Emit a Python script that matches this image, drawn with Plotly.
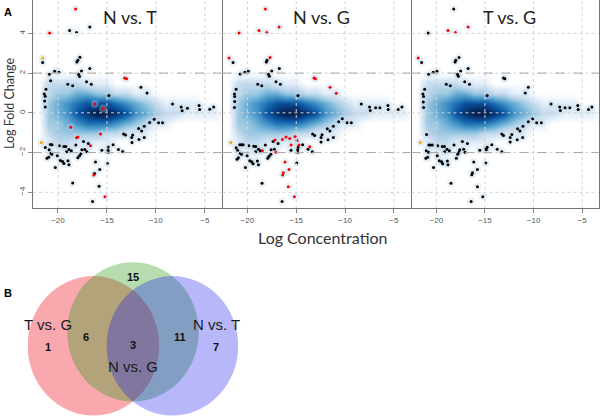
import plotly.graph_objects as go

# ---------------- data ----------------
panel_titles = ["N vs. T", "N vs. G", "T vs. G"]
x_ticks = [-20, -15, -10, -5]
y_ticks = [-4, -2, 0, 2, 4]
fold_cut = [-2, 2]

# smoothed density (shared look of the three MA plots) (0..9)
density_x = [-22, -21, -20, -19, -18, -17, -16, -15, -14, -13, -12, -11, -10, -9, -8, -7, -6, -5, -4, -3]
density_y = [-2.5, -2, -1.5, -1, -0.5, 0, 0.5, 1, 1.5, 2, 2.5]
density_cols = [
    [0, 0, 0, 0, 0, 0, 0, 0, 0, 0, 0],
    [0, 0, 1, 2, 3, 3, 3, 2, 2, 0, 0],
    [0, 1, 2, 3, 3, 4, 4, 3, 2, 0, 0],
    [0, 1, 2, 3, 4, 5, 5, 3, 2, 0, 0],
    [0, 0, 1, 3, 5, 7, 6, 4, 2, 0, 0],
    [0, 0, 1, 3, 6, 8, 7, 4, 1, 0, 0],
    [0, 0, 1, 3, 6, 9, 7, 3, 1, 0, 0],
    [0, 0, 1, 2, 6, 9, 7, 3, 1, 0, 0],
    [0, 0, 0, 2, 5, 8, 6, 2, 0, 0, 0],
    [0, 0, 0, 1, 4, 7, 5, 2, 0, 0, 0],
    [0, 0, 0, 1, 3, 5, 4, 1, 0, 0, 0],
    [0, 0, 0, 1, 2, 4, 3, 1, 0, 0, 0],
    [0, 0, 0, 0, 1, 3, 2, 0, 0, 0, 0],
    [0, 0, 0, 0, 1, 2, 1, 0, 0, 0, 0],
    [0, 0, 0, 0, 0, 2, 1, 0, 0, 0, 0],
    [0, 0, 0, 0, 0, 1, 1, 0, 0, 0, 0],
    [0, 0, 0, 0, 0, 1, 1, 0, 0, 0, 0],
    [0, 0, 0, 0, 0, 1, 0, 0, 0, 0, 0],
    [0, 0, 0, 0, 0, 1, 0, 0, 0, 0, 0],
    [0, 0, 0, 0, 0, 0, 0, 0, 0, 0, 0],
]

# Panel 1: N vs. T
nt_black_x = [-16.75, -18.81, -18.1, -21.56, -17.76, -17.97, -18.07, -16.75, -20.34, -19.9, -20.88, -17.6, -17.9, -17.8,
              -20.75, -17.08, -16.6, -19.0, -18.5, -21.22, -11.53, -10.9, -21.4, -21.3, -21.36, -21.3, -14.8, -8.3,
              -7.42, -7.32, -6.78, -5.59, -5.53, -4.5, -4.1, -10.17, -10.64, -9.73, -9.32, -11.19, -11.76, -11.46,
              -13.3, -13.1, -12.37, -12.47, -11.19, -11.73, -12.44, -20.78, -20.6, -19.86, -19.4, -19.2, -18.17,
              -17.39, -16.9, -14.37, -14.88, -13.83, -13.39, -21.29, -20.9, -18.88, -18.64, -17.56, -17.25, -17.05,
              -15.52, -14.88, -14.88, -20.71, -20.64, -17.66, -17.8, -17.97, -19.12, -21.12, -20.95, -20.07, -19.76,
              -19.53, -19.4, -18.98, -18.88, -20.27, -16.17, -14.95, -15.73, -16.27, -18.5, -15.8, -16.47]
nt_black_y = [4.32, 4.14, 4.05, 2.53, 2.80, 2.65, 2.56, 2.23, 2.09, 2.04, 1.94, 2.11, 1.94, 1.83,
              1.62, 1.57, 1.44, 1.44, 1.36, 1.19, 1.29, 1.0, 0.95, 0.84, 0.59, 0.3, 0.87, 0.45,
              0.30, 0.10, 0.23, 0.37, 0.17, 0.18, 0.3, -0.32, -0.49, -0.5, -0.5, -0.67, -0.79, -0.92,
              -1.06, -1.12, -1.12, -1.24, -1.24, -1.34, -1.49, -1.59, -1.6, -1.66, -1.69, -1.69, -1.62,
              -1.44, -1.54, -1.6, -1.72, -1.84, -1.94, -1.74, -1.86, -1.84, -1.91, -1.86, -1.84, -1.96,
              -1.88, -1.88, -1.99, -2.03, -2.08, -2.06, -2.16, -2.26, -1.96, -2.29, -2.24, -2.16, -2.4,
              -2.45, -2.55, -2.41, -2.61, -2.75, -2.48, -2.55, -2.85, -3.05, -3.53, -3.69, -4.46]
nt_red_x = [-18.2, -20.85, -13.2, -13.0, -16.24, -15.4, -18.7, -15.66, -18.1, -17.97, -16.68, -16.34, -15.2]
nt_red_y = [5.23, 4.02, 1.76, 1.71, 0.44, 0.22, -0.72, -1.07, -1.26, -1.22, -1.66, -3.13, -4.22]
nt_orange_x = [-21.56, -21.7]
nt_orange_y = [2.76, -1.49]

# Panel 2: N vs. G
ng_black_x = [-21.47, -17.99, -18.06, -16.73, -20.27, -19.9, -20.75, -17.51, -17.85, -17.75, -18.94, -18.53, -17.07,
              -16.62, -21.16, -21.33, -21.3, -21.3, -21.33, -14.82, -8.34, -7.49, -7.42, -6.87, -6.43, -5.61, -5.58,
              -4.56, -4.18, -10.28, -10.66, -9.8, -9.36, -11.2, -11.82, -11.55, -13.32, -13.11, -12.36, -12.46, -11.2,
              -11.75, -12.46, -20.78, -20.61, -20.44, -21.16, -21.0, -19.86, -19.35, -19.15, -18.16, -17.37, -16.86,
              -14.34, -14.82, -13.79, -13.35, -18.87, -18.67, -17.58, -17.24, -15.53, -14.85, -14.85, -20.72, -20.61,
              -17.6, -17.78, -17.92, -19.15, -21.06, -20.92, -20.03, -19.76, -19.56, -19.42, -18.98, -18.87, -20.2,
              -14.95, -18.5, -16.45]
ng_black_y = [2.53, 2.65, 2.56, 2.23, 2.04, 2.09, 1.96, 2.11, 1.94, 1.84, 1.44, 1.36, 1.57,
              1.44, 1.19, 0.95, 0.82, 0.57, 0.27, 0.87, 0.45, 0.3, 0.12, 0.25, 0.25, 0.37, 0.17,
              0.17, 0.3, -0.3, -0.45, -0.5, -0.5, -0.67, -0.8, -0.92, -1.06, -1.14, -1.1, -1.24, -1.24,
              -1.36, -1.47, -1.61, -1.61, -1.61, -1.76, -1.88, -1.66, -1.68, -1.69, -1.62, -1.44, -1.54,
              -1.61, -1.73, -1.83, -1.96, -1.83, -1.91, -1.86, -1.83, -1.88, -1.86, -1.99, -2.04, -2.09,
              -2.08, -2.18, -2.28, -1.96, -2.33, -2.26, -2.16, -2.41, -2.46, -2.56, -2.43, -2.61, -2.75,
              -2.53, -3.55, -4.46]
ng_red_x = [-18.16, -16.76, -18.81, -18.02, -20.85, -21.88, -17.68, -13.18, -13.04, -11.54, -10.9, -17.17, -16.05,
            -16.42, -15.67, -15.12, -14.92, -15.53, -14.72, -13.62, -18.47, -17.07, -16.15, -15.74, -16.32, -16.39,
            -15.81, -15.19]
ng_red_y = [5.23, 4.32, 4.14, 4.05, 4.02, 2.76, 2.78, 1.76, 1.71, 1.29, 0.99, -1.37, -1.22,
            -1.34, -1.29, -1.19, -1.39, -1.62, -1.62, -1.71, -1.91, -1.98, -2.48, -2.85, -3.02, -3.13,
            -3.72, -4.22]
ng_orange_x = [-21.7]
ng_orange_y = [-1.49]

# Panel 3: T vs. G
tg_black_x = [-18.21, -20.83, -21.51, -17.66, -18.0, -18.07, -16.73, -20.31, -19.93, -20.79, -17.49, -17.83, -17.73,
              -13.09, -12.95, -18.97, -18.56, -17.08, -16.59, -21.2, -10.54, -10.85, -21.38, -21.31, -21.34, -21.31,
              -14.77, -8.2, -7.31, -7.24, -6.76, -6.27, -5.45, -5.41, -4.35, -4.0, -10.09, -10.54, -9.68, -9.2,
              -11.09, -11.64, -11.4, -13.26, -13.09, -12.23, -12.4, -11.12, -11.68, -12.4, -21.0, -20.76, -20.62,
              -20.41, -21.03, -20.79, -19.86, -19.38, -19.17, -18.18, -17.32, -16.8, -14.29, -14.77, -13.74, -13.26,
              -18.9, -18.66, -17.59, -17.18, -17.04, -15.53, -14.87, -14.87, -17.66, -17.8, -17.94, -19.14, -21.07,
              -20.89, -19.9, -19.69, -19.45, -19.35, -18.86, -18.8, -20.28, -16.15, -14.91, -15.77, -16.28, -16.35,
              -15.77, -18.49, -15.22, -16.42]
tg_black_y = [5.23, 4.02, 2.53, 2.78, 2.65, 2.56, 2.23, 2.04, 2.09, 1.94, 2.11, 1.94, 1.84,
              1.76, 1.71, 1.44, 1.36, 1.57, 1.44, 1.19, 1.29, 1.0, 0.95, 0.82, 0.55, 0.27,
              0.87, 0.45, 0.3, 0.12, 0.25, 0.25, 0.37, 0.17, 0.17, 0.3, -0.3, -0.45, -0.5, -0.5,
              -0.67, -0.8, -0.92, -1.06, -1.14, -1.09, -1.24, -1.24, -1.36, -1.47, -1.09, -1.62, -1.62,
              -1.62, -1.91, -1.98, -1.66, -1.69, -1.69, -1.62, -1.44, -1.54, -1.61, -1.73, -1.83, -1.96,
              -1.83, -1.91, -1.86, -1.83, -1.98, -1.88, -1.86, -1.79, -1.98, -2.08, -2.28, -1.96, -2.29,
              -2.24, -2.16, -2.41, -2.46, -2.56, -2.43, -2.61, -2.75, -2.48, -2.53, -2.85, -3.02, -3.12,
              -3.72, -3.55, -4.22, -4.46]
tg_red_x = [-18.8, -18.04, -16.73, -21.86]
tg_red_y = [4.14, 4.05, 4.32, 2.76]
tg_orange_x = [-21.65]
tg_orange_y = [-1.49]

# Venn diagram
venn_sets = ["T vs. G", "N vs. G", "N vs. T"]
venn_counts = {"T": 1, "TG": 6, "G": 15, "TGN": 3, "GN": 11, "N": 7}

# ---------------- layout helpers ----------------
W, H = 600, 418
def xd(a, b):
    return [a / W, b / W]
def yd(top, bot):
    return [1 - bot / H, 1 - top / H]

panels = [
    dict(dom=xd(33, 221.5), bx=nt_black_x, by=nt_black_y, rx=nt_red_x, ry=nt_red_y, ox=nt_orange_x, oy=nt_orange_y, tx=130),
    dict(dom=xd(222.5, 410.5), bx=ng_black_x, by=ng_black_y, rx=ng_red_x, ry=ng_red_y, ox=ng_orange_x, oy=ng_orange_y, tx=321),
    dict(dom=xd(411.5, 598.7), bx=tg_black_x, by=tg_black_y, rx=tg_red_x, ry=tg_red_y, ox=tg_orange_x, oy=tg_orange_y, tx=509),
]
XR = [-22.55, -3.3]
YR = [-4.79, 5.68]

density_z = [[density_cols[c][r] for c in range(len(density_x))] for r in range(len(density_y))]
blues = [[0, "#FFFFFF"], [1/9, "#E3EEF8"], [2/9, "#C6DBEF"], [3/9, "#9ECAE1"], [4/9, "#6BAED6"],
         [5/9, "#4292C6"], [6/9, "#2171B5"], [7/9, "#08519C"], [8/9, "#08306B"], [1, "#061F4A"]]

fig = go.Figure()
shapes = []
annotations = []
layout_axes = {}

def pann(text, px, py, size, family="Lato", color="#222", angle=0):
    return dict(text=text, x=px / W, y=1 - py / H, xref="paper", yref="paper", xanchor="center",
                yanchor="middle", showarrow=False, textangle=angle,
                font=dict(family=family, size=size, color=color))

for i, p in enumerate(panels):
    n = i + 1
    xa = "x" if n == 1 else f"x{n}"
    ya = "y" if n == 1 else f"y{n}"
    fig.add_trace(go.Heatmap(x=density_x, y=density_y, z=density_z, zsmooth="best", colorscale=blues,
                             zmin=0, zmax=9, showscale=False, hoverinfo="skip", xaxis=xa, yaxis=ya))
    allx = p["bx"] + p["rx"] + p["ox"]
    ally = p["by"] + p["ry"] + p["oy"]
    fig.add_trace(go.Scatter(x=allx, y=ally, mode="markers", xaxis=xa, yaxis=ya,
                             marker=dict(size=8, color="rgba(190,215,236,0.3)", line=dict(width=0)),
                             hoverinfo="skip"))
    fig.add_trace(go.Scatter(x=p["bx"], y=p["by"], mode="markers", xaxis=xa, yaxis=ya,
                             marker=dict(size=3, color="black", line=dict(width=0))))
    fig.add_trace(go.Scatter(x=p["rx"], y=p["ry"], mode="markers", xaxis=xa, yaxis=ya,
                             marker=dict(size=3, color="#FF0000", line=dict(width=0))))
    fig.add_trace(go.Scatter(x=p["ox"], y=p["oy"], mode="markers", xaxis=xa, yaxis=ya,
                             marker=dict(size=3, color="#FFA500", line=dict(width=0))))
    # grid (drawn over density like R's grid())
    for v in x_ticks:
        shapes.append(dict(type="line", xref=xa, yref=f"{ya} domain", x0=v, x1=v, y0=0, y1=1, layer="above",
                           line=dict(color="#D3D3D3", width=1, dash="dot")))
    for v in y_ticks:
        shapes.append(dict(type="line", xref=f"{xa} domain", yref=ya, x0=0, x1=1, y0=v, y1=v, layer="above",
                           line=dict(color="#D3D3D3", width=1, dash="dot")))
    for v in fold_cut:
        shapes.append(dict(type="line", xref=f"{xa} domain", yref=ya, x0=0, x1=1, y0=v, y1=v, layer="above",
                           line=dict(color="#A8A8A8", width=1, dash="dash")))
    axkey = "xaxis" if n == 1 else f"xaxis{n}"
    aykey = "yaxis" if n == 1 else f"yaxis{n}"
    layout_axes[axkey] = dict(domain=p["dom"], range=XR, anchor=ya, tickvals=x_ticks, ticks="outside", ticklen=4,
                              tickcolor="#888", showgrid=False, zeroline=False, showline=True, mirror=True,
                              linecolor="#737373", linewidth=1,
                              tickfont=dict(size=8, color="#555", family="Arial"))
    layout_axes[aykey] = dict(domain=yd(0, 208), range=YR, anchor=xa, tickvals=y_ticks, showgrid=False,
                              zeroline=False, showline=True, mirror=True, linecolor="#737373", linewidth=1,
                              ticks="outside" if n == 1 else "", ticklen=4, tickcolor="#888",
                              showticklabels=(n == 1), tickangle=-90,
                              tickfont=dict(size=8, color="#555", family="Arial"))
    annotations.append(pann(panel_titles[i], p["tx"], 17, 18))

# Venn axes: unit radius circles
VX = [-1.6, 1.6]
VY = [-1.03, 1.3]
rx_px, ry_px = 65.8, 69.7
cx_px, cy_px = 132.9, 345.8
layout_axes["xaxis4"] = dict(domain=xd(cx_px + VX[0] * rx_px, cx_px + VX[1] * rx_px), range=VX, visible=False,
                             anchor="y4", fixedrange=True)
layout_axes["yaxis4"] = dict(domain=yd(cy_px - VY[1] * ry_px, cy_px - VY[0] * ry_px), range=VY, visible=False,
                             anchor="x4", fixedrange=True)
venn_centers = [(-0.6, 0.0), (0.0, 0.2), (0.6, 0.0)]
venn_fill = ["#F0303C", "#2E9B1E", "#1010F0"]
venn_alpha = [0.42, 0.35, 0.3]
for (cx, cy), fc, al in zip(venn_centers, venn_fill, venn_alpha):
    shapes.append(dict(type="circle", xref="x4", yref="y4", x0=cx - 1, x1=cx + 1, y0=cy - 1, y1=cy + 1,
                       fillcolor=fc, opacity=al, line=dict(width=0), layer="above"))
fig.add_trace(go.Scatter(x=[0], y=[0], xaxis="x4", yaxis="y4", mode="markers", marker=dict(opacity=0),
                         hoverinfo="skip"))

set_pos = [(-1.286, 0.30), (0.0, -0.29), (1.27, 0.30)]
for name, (x, y) in zip(venn_sets, set_pos):
    annotations.append(dict(text=name, x=x, y=y, xref="x4", yref="y4", showarrow=False, xanchor="center",
                            yanchor="middle", font=dict(family="Arial", size=15, color="#1a1a1a")))
count_pos = {"T": (-1.286, -0.02), "TG": (-0.717, 0.13), "G": (0.0, 0.99), "TGN": (0.0, 0.01),
             "GN": (0.716, 0.13), "N": (1.27, -0.02)}
for k, (x, y) in count_pos.items():
    annotations.append(dict(text=f"<b>{venn_counts[k]}</b>", x=x, y=y, xref="x4", yref="y4", showarrow=False,
                            xanchor="center", yanchor="middle",
                            font=dict(family="Arial", size=11, color="#111")))

# axis titles and panel letters
annotations.append(pann("Log Fold Change", 10, 104, 12.5, color="#333", angle=-90))
annotations.append(pann("Log Concentration", 323, 237, 16, color="#333"))
annotations.append(pann("<b>A</b>", 8, 12, 11, family="Arial", color="black"))
annotations.append(pann("<b>B</b>", 8, 293, 11, family="Arial", color="black"))

fig.update_layout(width=W, height=H, margin=dict(l=0, r=0, t=0, b=0), showlegend=False,
                  paper_bgcolor="white", plot_bgcolor="white", shapes=shapes, annotations=annotations,
                  **layout_axes)
fig.write_html("out.html", config={"displayModeBar": False},
               post_script="document.body.style.margin='0';document.body.style.overflow='hidden';")
